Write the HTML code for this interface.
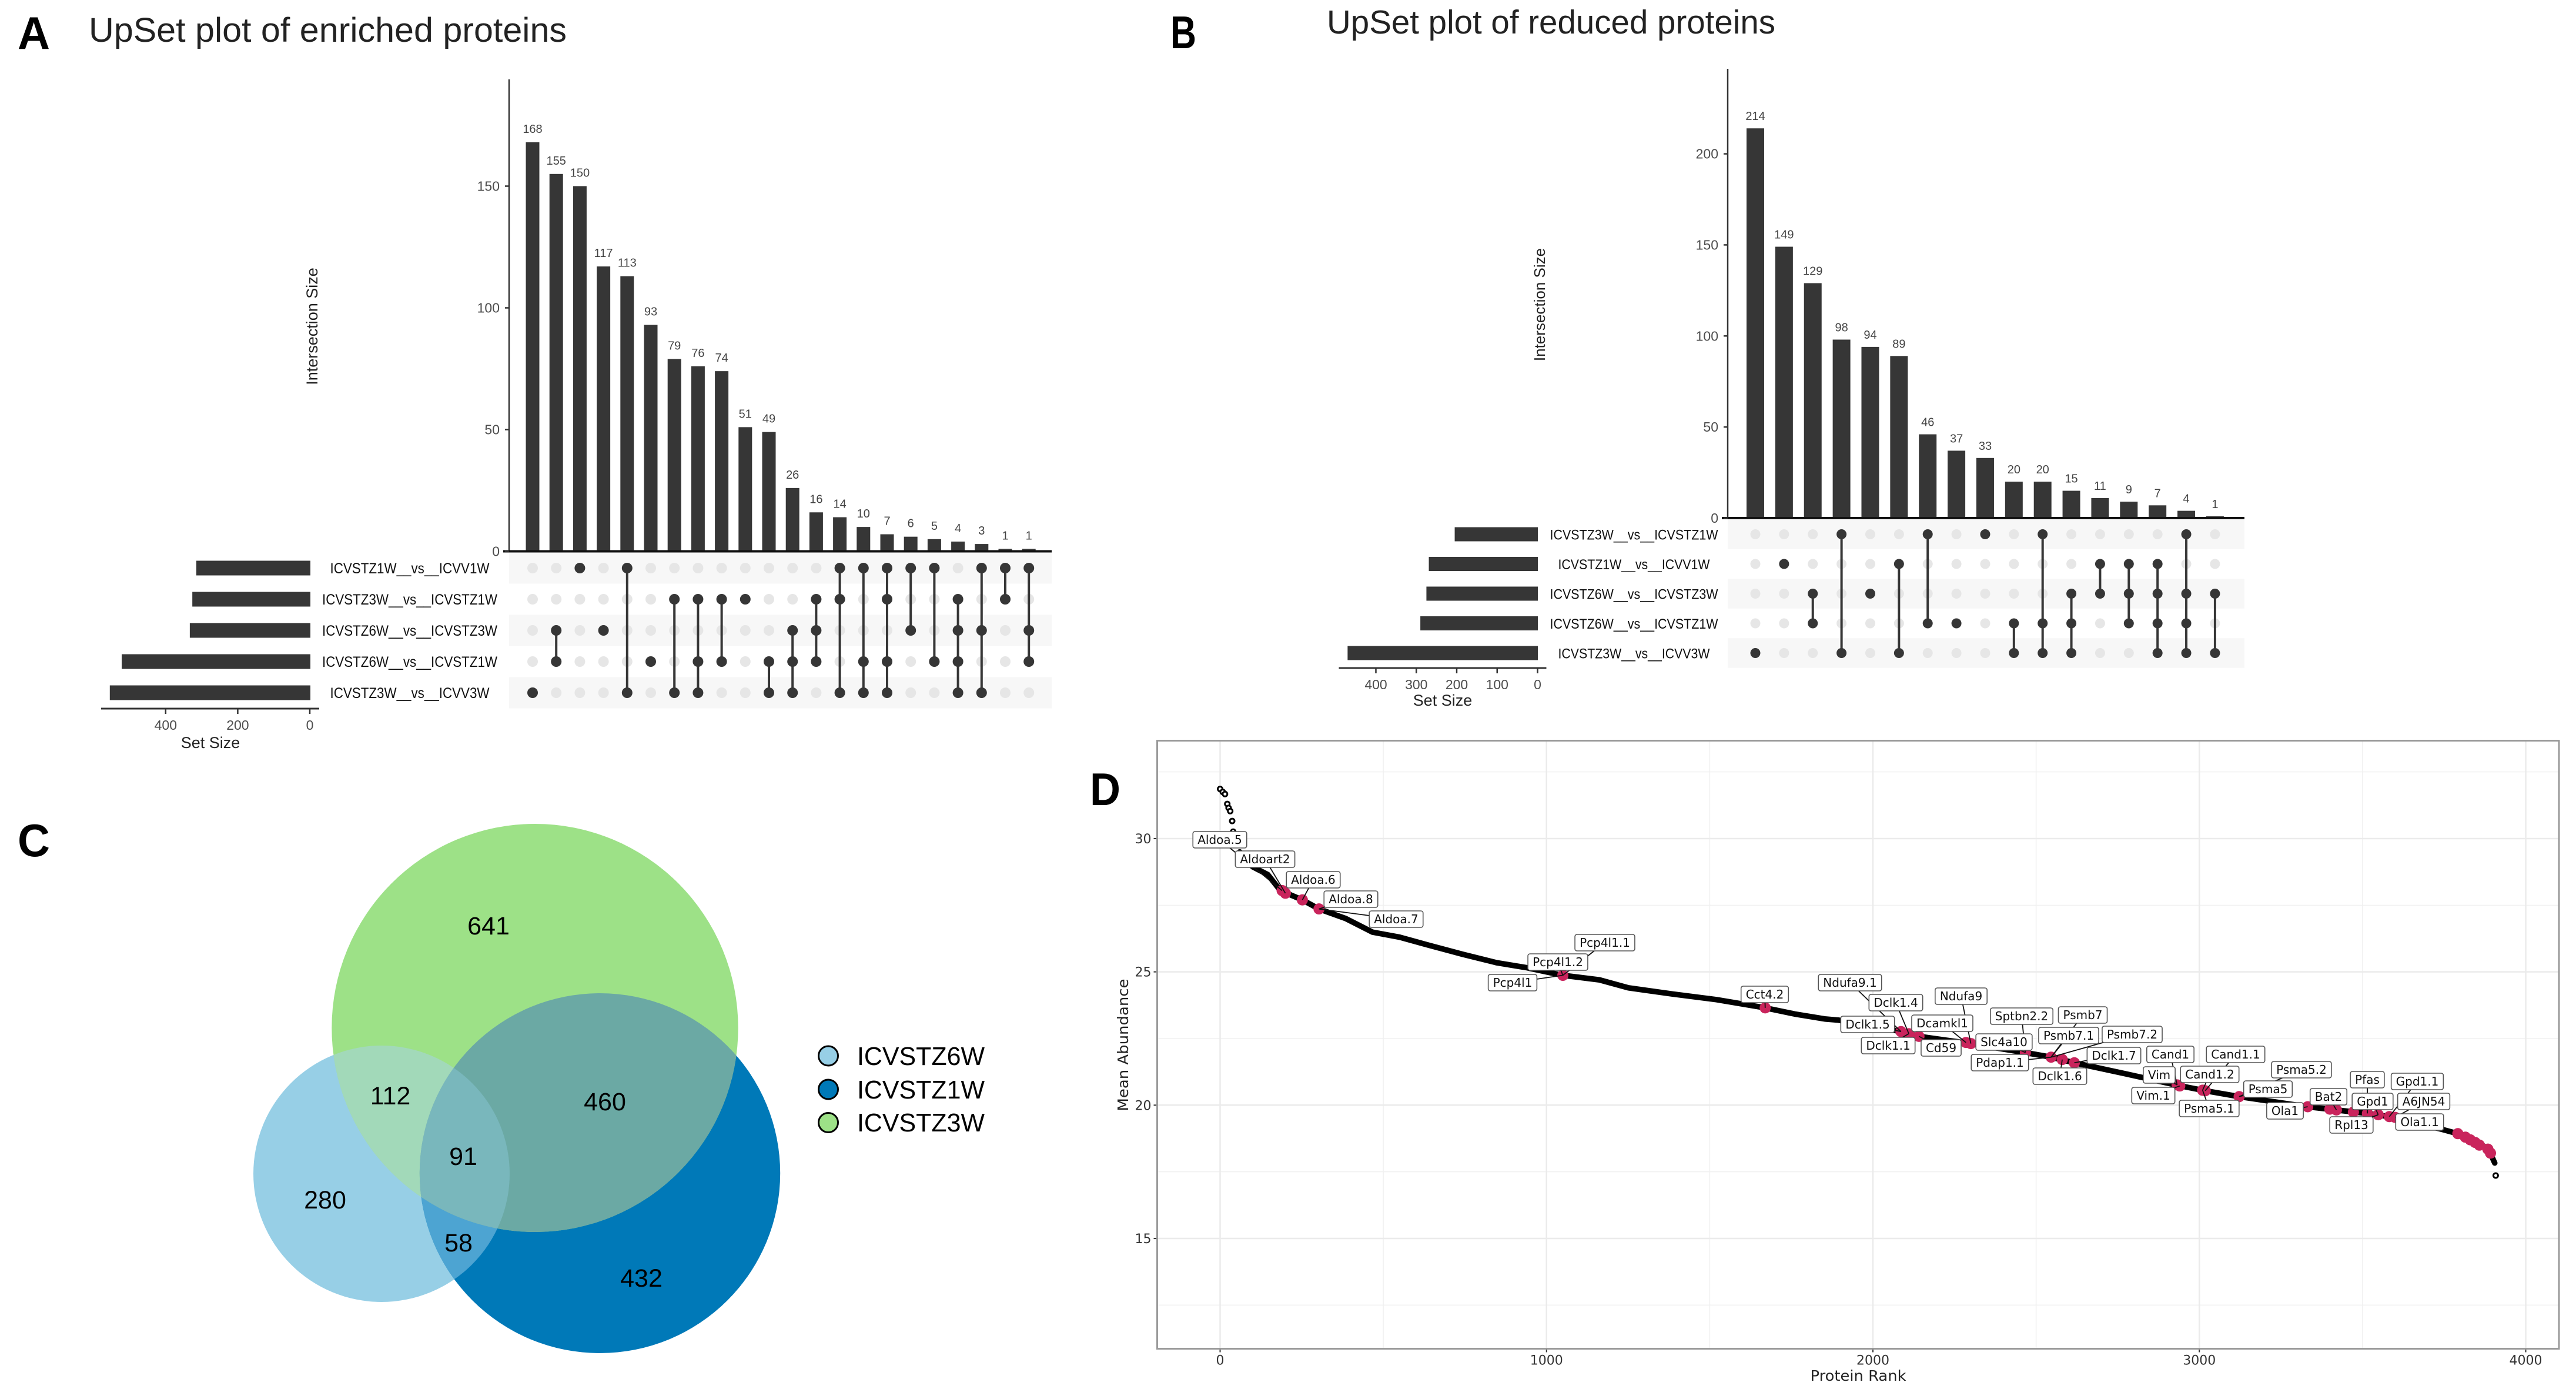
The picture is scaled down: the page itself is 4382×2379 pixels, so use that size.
<!DOCTYPE html>
<html lang="en">
<head>
<meta charset="utf-8">
<title>Proteomics figure: UpSet plots, Venn diagram and abundance rank plot</title>
<style>
html,body{margin:0;padding:0;background:#fff;}
body{width:4382px;height:2379px;overflow:hidden;}
svg{display:block;font-family:"Liberation Sans",sans-serif;}
</style>
</head>
<body>
<svg id="figure" width="4382" height="2379" viewBox="0 0 4382 2379" xmlns="http://www.w3.org/2000/svg">
  <rect x="0" y="0" width="4382" height="2379" fill="#fff"/>

  <text x="30" y="83" font-size="78" font-weight="bold" textLength="55" lengthAdjust="spacingAndGlyphs">A</text>
  <text x="1991" y="82" font-size="78" font-weight="bold" textLength="44" lengthAdjust="spacingAndGlyphs">B</text>
  <text x="30" y="1456" font-size="78" font-weight="bold" textLength="55" lengthAdjust="spacingAndGlyphs">C</text>
  <text x="1854" y="1369" font-size="78" font-weight="bold" textLength="52" lengthAdjust="spacingAndGlyphs">D</text>

  <text x="151" y="71" font-size="58" fill="#222" textLength="813" lengthAdjust="spacingAndGlyphs">UpSet plot of enriched proteins</text>
  <text x="2257" y="57" font-size="57" fill="#222" textLength="763" lengthAdjust="spacingAndGlyphs">UpSet plot of reduced proteins</text>

  <g id="upset-a"></g>
  <g id="upset-b"></g>

  <g id="venn">
    <defs>
      <clipPath id="clip-light"><ellipse cx="649" cy="1996" rx="218" ry="218"/></clipPath>
      <clipPath id="clip-dark"><ellipse cx="1020.5" cy="1995" rx="306.7" ry="306"/></clipPath>
      <clipPath id="clip-green"><ellipse cx="910" cy="1748" rx="345.7" ry="347"/></clipPath>
    </defs>
    <ellipse cx="649" cy="1996" rx="218" ry="218" fill="#97cfe6"/>
    <ellipse cx="1020.5" cy="1995" rx="306.7" ry="306" fill="#0079b8"/>
    <ellipse cx="910" cy="1748" rx="345.7" ry="347" fill="#9de187"/>
    <g clip-path="url(#clip-light)"><ellipse cx="1020.5" cy="1995" rx="306.7" ry="306" fill="#4da4d2"/></g>
    <g clip-path="url(#clip-light)"><ellipse cx="910" cy="1748" rx="345.7" ry="347" fill="#a2d9b9"/></g>
    <g clip-path="url(#clip-dark)"><ellipse cx="910" cy="1748" rx="345.7" ry="347" fill="#6ba9a4"/></g>
    <g clip-path="url(#clip-light)"><g clip-path="url(#clip-dark)"><ellipse cx="910" cy="1748" rx="345.7" ry="347" fill="#79b7bc"/></g></g>
    <g font-size="43" text-anchor="middle" fill="#000">
      <text x="831" y="1589">641</text>
      <text x="664" y="1878">112</text>
      <text x="1029" y="1888">460</text>
      <text x="788" y="1981">91</text>
      <text x="553" y="2055">280</text>
      <text x="780" y="2128">58</text>
      <text x="1091" y="2188">432</text>
    </g>
    <g>
      <circle cx="1409" cy="1795.5" r="16.5" fill="#97cfe6" stroke="#000" stroke-width="3"/>
      <circle cx="1409" cy="1852.5" r="16.5" fill="#0079b8" stroke="#000" stroke-width="3"/>
      <circle cx="1409" cy="1909" r="16.5" fill="#9de187" stroke="#000" stroke-width="3"/>
      <text x="1458" y="1811" font-size="44" textLength="217" lengthAdjust="spacingAndGlyphs">ICVSTZ6W</text>
      <text x="1458" y="1868" font-size="44" textLength="217" lengthAdjust="spacingAndGlyphs">ICVSTZ1W</text>
      <text x="1458" y="1924" font-size="44" textLength="217" lengthAdjust="spacingAndGlyphs">ICVSTZ3W</text>
    </g>
  </g>

  <g id="rank-plot"></g>
</svg>

<script>
// ---------- Panel A data ----------
const enrichedCounts = [168,155,150,117,113,93,79,76,74,51,49,26,16,14,10,7,6,5,4,3,1,1];
const enrichedSetNames = ["ICVSTZ1W__vs__ICVV1W","ICVSTZ3W__vs__ICVSTZ1W","ICVSTZ6W__vs__ICVSTZ3W","ICVSTZ6W__vs__ICVSTZ1W","ICVSTZ3W__vs__ICVV3W"];
const enrichedSetSizes = [315,326,333,522,555];
const enrichedMembership = [[4],[2,3],[0],[2],[0,4],[3],[1,4],[1,3,4],[1,3],[1],[3,4],[2,3,4],[1,2,3],[0,1,4],[0,3,4],[0,1,3,4],[0,2],[0,3],[1,2,3,4],[0,2,4],[0,1],[0,2,3]];
const enrichedCountTicks = [0,50,100,150];
const enrichedSizeTicks = [0,200,400];

// ---------- Panel B data ----------
const reducedCounts = [214,149,129,98,94,89,46,37,33,20,20,15,11,9,7,4,1];
const reducedSetNames = ["ICVSTZ3W__vs__ICVSTZ1W","ICVSTZ1W__vs__ICVV1W","ICVSTZ6W__vs__ICVSTZ3W","ICVSTZ6W__vs__ICVSTZ1W","ICVSTZ3W__vs__ICVV3W"];
const reducedSetSizes = [205,269,275,290,470];
const reducedMembership = [[4],[1],[2,3],[0,4],[2],[1,4],[0,3],[3],[0],[3,4],[0,3,4],[2,3,4],[1,2],[1,2,3],[1,2,3,4],[0,2,3,4],[2,4]];
const reducedCountTicks = [0,50,100,150,200];
const reducedSizeTicks = [0,100,200,300,400];

// ---------- Panel D data ----------
const curveRanks = [60,100,146,179,198,252,303,385,467,550,639,743,848,938,1050,1162,1251,1386,1520,1670,1760,1855,1894,2086,2141,2292,2467,2546,2617,2776,2935,3014,3122,3332,3411,3514,3586,3744,3792,3856,3887,3905];
const curveValues = [29.5,28.94,28.65,28.14,27.98,27.7,27.36,27.0,26.49,26.3,26.0,25.66,25.34,25.16,24.87,24.7,24.4,24.17,23.96,23.65,23.42,23.23,23.19,22.76,22.58,22.32,21.97,21.8,21.59,21.17,20.74,20.55,20.32,19.94,19.83,19.69,19.56,19.09,18.93,18.6,18.32,17.83];
const openRanks = [0,8,15,22,26,31,37,40,3908];
const openValues = [31.86,31.75,31.67,31.3,31.15,31.03,30.66,30.26,17.36];
const highlightRanks = [190,200,252,303,1050,1670,2086,2110,2141,2285,2300,2467,2546,2580,2617,2932,2940,3010,3018,3122,3332,3400,3420,3472,3515,3548,3582,3600,3792,3815,3830,3845,3858,3884,3892];
const highlightValues = [28.05,27.95,27.7,27.36,24.87,23.65,22.76,22.68,22.58,22.35,22.31,21.97,21.8,21.71,21.59,20.76,20.72,20.56,20.54,20.32,19.94,19.85,19.82,19.74,19.69,19.64,19.57,19.54,18.93,18.8,18.7,18.6,18.5,18.35,18.2];
const labelNames = ["Aldoa.5","Aldoart2","Aldoa.6","Aldoa.8","Aldoa.7","Pcp4l1.1","Pcp4l1.2","Pcp4l1","Cct4.2","Ndufa9.1","Dclk1.4","Dclk1.5","Dcamkl1","Dclk1.1","Cd59","Ndufa9","Sptbn2.2","Psmb7","Psmb7.1","Psmb7.2","Slc4a10","Pdap1.1","Dclk1.7","Dclk1.6","Cand1","Cand1.1","Vim","Cand1.2","Vim.1","Psma5.1","Psma5","Psma5.2","Ola1","Bat2","Pfas","Gpd1.1","Gpd1","A6JN54","Rpl13","Ola1.1"];
const labelTargets = [0,1,2,3,3,4,4,4,5,6,7,6,9,7,8,10,11,12,12,12,11,12,14,13,15,18,15,17,16,17,19,19,20,22,24,26,25,27,25,27];
const rankTicks = [0,1000,2000,3000,4000];
const rankMinorTicks = [500,1500,2500,3500];
const abundanceTicks = [15,20,25,30];
const abundanceMinorTicks = [12.5,17.5,22.5,27.5,32.5];

// Repelled label box placement (layout only, not data)
const labelLayoutX = [2075,2152,2234,2298,2375,2730,2650,2573,3002,3147,3225,3177,3304,3212,3302,3336,3439,3543,3519,3627,3409,3402,3596,3504,3692,3803,3673,3759,3663,3758,3858,3915,3887,3961,4027,4112,4036,4123,4000,4116];
const labelLayoutY = [1428,1461,1496,1529,1563,1603,1636,1671,1691,1671,1705,1742,1740,1778,1782,1694,1728,1726,1761,1759,1772,1807,1795,1830,1793,1793,1828,1827,1863,1885,1852,1819,1889,1865,1836,1839,1873,1873,1913,1908];

const SVGNS = "http://www.w3.org/2000/svg";
function mk(tag, parent, attrs) {
  const n = document.createElementNS(SVGNS, tag);
  for (const k in attrs) n.setAttribute(k, attrs[k]);
  parent.appendChild(n);
  return n;
}
function mkText(parent, str, attrs) {
  const n = mk("text", parent, attrs);
  n.textContent = str;
  return n;
}

function drawUpset(g, counts, setNames, setSizes, membership, countTicks, sizeTicks, L) {
  const colX = i => L.col0 + i * L.colStep;
  const countY = v => L.base - v * L.perCount;
  const sizeX = v => L.size0 - v * L.perSize;
  const rowY = r => L.row0 + r * L.rowStep;
  const DARK = "#363636";

  // matrix stripes
  setNames.forEach((_, r) => {
    if (r % 2 === 0) {
      const s = mk("rect", g, {x:L.axisX, y:rowY(r)-L.rowStep/2, width:L.right-L.axisX, height:L.rowStep, fill:"#f7f7f7"});
      
      
    }
  });

  // intersection bars and values
  counts.forEach((v, i) => {
    const b = mk("rect", g, {x:colX(i)-L.barW/2, y:countY(v), width:L.barW, height:L.base-countY(v), fill:DARK});
    
    
    const t = mkText(g, String(v), {x:colX(i), y:countY(v)-L.valueGap, "font-size":20, fill:"#444", "text-anchor":"middle"});
    
    
  });

  // y axis
  const yAxis = mk("line", g, {x1:L.axisX, x2:L.axisX, y1:L.top, y2:L.base, stroke:"#333", "stroke-width":2.5});
  
  
  const baseLine = mk("line", g, {x1:L.axisX-10, x2:L.right, y1:L.base, y2:L.base, stroke:"#111", "stroke-width":4});
  
  
  countTicks.forEach(v => {
    const tk = mk("line", g, {x1:L.axisX-7, x2:L.axisX, y1:countY(v), y2:countY(v), stroke:"#333", "stroke-width":2.5});
    
    
    const t = mkText(g, String(v), {x:L.axisX-16, y:countY(v)+8, "font-size":23, fill:"#4d4d4d", "text-anchor":"end"});
    
    
  });
  const yt = mkText(g, "Intersection Size", {transform:"translate("+L.titleX+","+L.titleY+") rotate(-90)", "font-size":L.titleSize, fill:"#222", "text-anchor":"middle"});
  
  

  // set size bars and labels
  setNames.forEach((name, r) => {
    const b = mk("rect", g, {x:sizeX(setSizes[r]), y:rowY(r)-L.setBarH/2, width:L.sizeEdge-sizeX(setSizes[r]), height:L.setBarH, fill:DARK});
    
    
    const len = name.length > 20 ? L.longLabel : L.shortLabel;
    const t = mkText(g, name, {x:L.labelX, y:rowY(r)+9, "font-size":L.labelSize, fill:"#111", "text-anchor":"middle", textLength:len, lengthAdjust:"spacingAndGlyphs"});
    
    
  });

  // set size axis
  const sa = mk("line", g, {x1:L.sizeAxisL, x2:L.sizeAxisR, y1:L.sizeAxisY, y2:L.sizeAxisY, stroke:"#333", "stroke-width":3});
  
  
  sizeTicks.forEach(v => {
    const tk = mk("line", g, {x1:sizeX(v), x2:sizeX(v), y1:L.sizeAxisY, y2:L.sizeAxisY+9, stroke:"#333", "stroke-width":2.5});
    
    
    const t = mkText(g, String(v), {x:sizeX(v), y:L.sizeAxisY+36, "font-size":23, fill:"#4d4d4d", "text-anchor":"middle"});
    
    
  });
  const st = mkText(g, "Set Size", {x:L.sizeTitleX, y:L.sizeTitleY, "font-size":27, fill:"#222", "text-anchor":"middle"});
  
  

  // dot matrix
  membership.forEach((rows, i) => {
    setNames.forEach((_, r) => {
      const d = mk("circle", g, {cx:colX(i), cy:rowY(r), r:L.dotR, fill:"#e6e6e6"});
      
      
    });
  });
  membership.forEach((rows, i) => {
    if (rows.length > 1) {
      const l = mk("line", g, {x1:colX(i), x2:colX(i), y1:rowY(rows[0]), y2:rowY(rows[rows.length-1]), stroke:DARK, "stroke-width":4});
      
      
    }
    rows.forEach(r => {
      const d = mk("circle", g, {cx:colX(i), cy:rowY(r), r:L.dotR, fill:DARK});
      
      
    });
  });
}

drawUpset(document.getElementById("upset-a"), enrichedCounts, enrichedSetNames, enrichedSetSizes, enrichedMembership, enrichedCountTicks, enrichedSizeTicks, {
  col0:906, colStep:40.2, base:937.5, perCount:4.14, axisX:866, top:135, right:1789, barW:23, valueGap:16,
  row0:966, rowStep:53, size0:527, perSize:0.613, sizeEdge:528, setBarH:25, dotR:9,
  labelX:697, labelSize:25, longLabel:298, shortLabel:271, titleX:540, titleY:555, titleSize:27,
  sizeAxisL:172, sizeAxisR:543, sizeAxisY:1205, sizeTitleX:358, sizeTitleY:1272
});
drawUpset(document.getElementById("upset-b"), reducedCounts, reducedSetNames, reducedSetSizes, reducedMembership, reducedCountTicks, reducedSizeTicks, {
  col0:2986, colStep:48.87, base:881, perCount:3.097, axisX:2939, top:117, right:3818, barW:30, valueGap:14,
  row0:908.5, rowStep:50.5, size0:2615.5, perSize:0.6875, sizeEdge:2616, setBarH:24, dotR:8.5,
  labelX:2779.5, labelSize:24, longLabel:286, shortLabel:258, titleX:2628, titleY:518, titleSize:26,
  sizeAxisL:2277.5, sizeAxisR:2630.5, sizeAxisY:1136, sizeTitleX:2454, sizeTitleY:1200
});

// ---------- Panel D ----------
(function () {
  const g = document.getElementById("rank-plot");
  const X = v => 2075.5 + 0.55525 * v;
  const Y = v => 1426 + (30 - v) * 45.33;
  const L = 1968.5, R = 4353, T = 1259.5, B = 2293.5;
  const FONT = '"DejaVu Sans",sans-serif';

  abundanceMinorTicks.forEach(v => {
    const l = mk("line", g, {x1:L, x2:R, y1:Y(v), y2:Y(v), stroke:"#f0f0f0", "stroke-width":1.5});
    
    
  });
  rankMinorTicks.forEach(v => {
    const l = mk("line", g, {x1:X(v), x2:X(v), y1:T, y2:B, stroke:"#f0f0f0", "stroke-width":1.5});
    
    
  });
  abundanceTicks.forEach(v => {
    const l = mk("line", g, {x1:L, x2:R, y1:Y(v), y2:Y(v), stroke:"#ebebeb", "stroke-width":2.5});
    
    
    const tk = mk("line", g, {x1:L-6, x2:L, y1:Y(v), y2:Y(v), stroke:"#333", "stroke-width":2});
    
    
    const t = mkText(g, String(v), {x:L-10, y:Y(v)+8, "font-size":22, "font-family":FONT, fill:"#333", "text-anchor":"end"});
    
    
  });
  rankTicks.forEach(v => {
    const l = mk("line", g, {x1:X(v), x2:X(v), y1:T, y2:B, stroke:"#ebebeb", "stroke-width":2.5});
    
    
    const tk = mk("line", g, {x1:X(v), x2:X(v), y1:B, y2:B+6, stroke:"#333", "stroke-width":2});
    
    
    const t = mkText(g, String(v), {x:X(v), y:B+27, "font-size":22, "font-family":FONT, fill:"#333", "text-anchor":"middle"});
    
    
  });
  const frame = mk("rect", g, {x:L, y:T, width:R-L, height:B-T, fill:"none", stroke:"#9a9a9a", "stroke-width":3});
  
  

  const yTitle = mkText(g, "Mean Abundance", {transform:"translate(1919,1777) rotate(-90)", "font-size":25, "font-family":FONT, fill:"#222", "text-anchor":"middle", textLength:225, lengthAdjust:"spacingAndGlyphs"});
  
  
  const xTitle = mkText(g, "Protein Rank", {x:3161, y:2348, "font-size":25, "font-family":FONT, fill:"#222", "text-anchor":"middle", textLength:163, lengthAdjust:"spacingAndGlyphs"});
  
  

  const pts = curveRanks.map((r, i) => X(r) + "," + Y(curveValues[i])).join(" ");
  const curve = mk("polyline", g, {points:pts, fill:"none", stroke:"#000", "stroke-width":9.5, "stroke-linejoin":"round", "stroke-linecap":"round"});
  
  

  openRanks.forEach((r, i) => {
    const c = mk("circle", g, {cx:X(r), cy:Y(openValues[i]), r:4, fill:"#fff", stroke:"#000", "stroke-width":3});
    
    
  });

  highlightRanks.forEach((r, i) => {
    const c = mk("circle", g, {cx:X(r), cy:Y(highlightValues[i]), r:9.5, fill:"#c9245c"});
    
    
  });

  labelNames.forEach((name, i) => {
    const h = labelTargets[i];
    const l = mk("line", g, {x1:labelLayoutX[i], y1:labelLayoutY[i], x2:X(highlightRanks[h]), y2:Y(highlightValues[h]), stroke:"#111", "stroke-width":1.8});
    
    
  });
  labelNames.forEach((name, i) => {
    const t = mkText(g, name, {x:labelLayoutX[i], y:labelLayoutY[i]+7, "font-size":20, "font-family":FONT, fill:"#111", "text-anchor":"middle"});
    
    
    const w = t.getComputedTextLength() + 16;
    const b = mk("rect", g, {x:labelLayoutX[i]-w/2, y:labelLayoutY[i]-14, width:w, height:28, rx:3.5, fill:"#fff", stroke:"#555", "stroke-width":1.6});
    
    
    g.insertBefore(b, t);
  });
})();
</script>
</body>
</html>
